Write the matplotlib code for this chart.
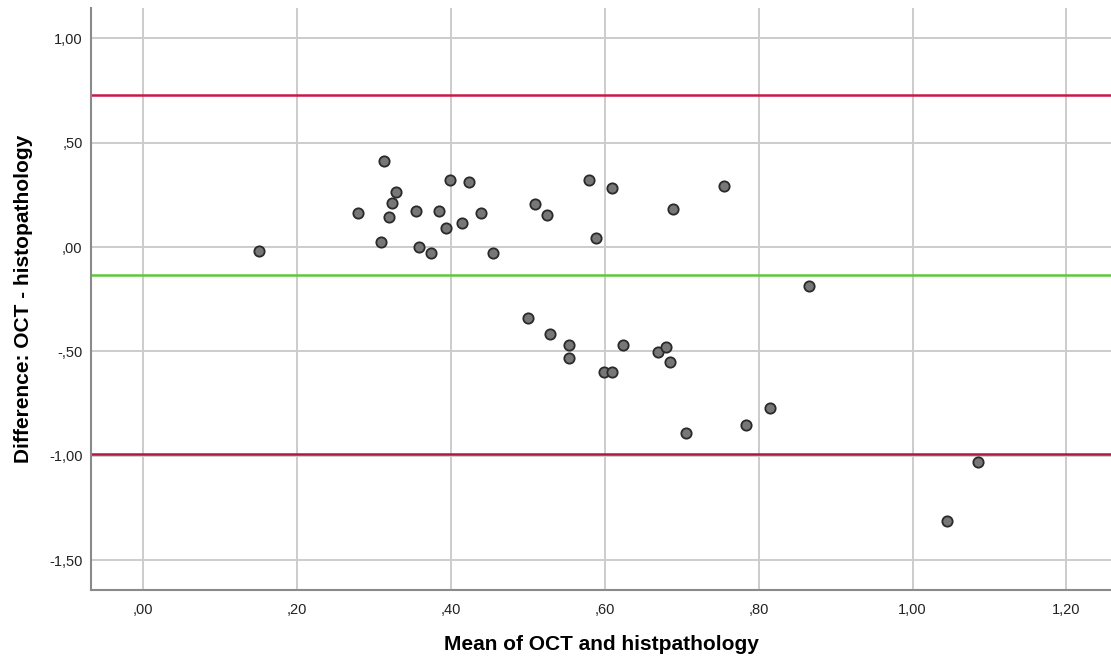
import matplotlib
matplotlib.use("Agg")
import matplotlib.pyplot as plt
from matplotlib.ticker import FuncFormatter

# Data (mean, difference)
mean_vals = [0.150, 0.313, 0.399, 0.424, 0.329, 0.324, 0.279, 0.355, 0.384, 0.439,
             0.319, 0.414, 0.394, 0.309, 0.359, 0.374, 0.455, 0.579, 0.610, 0.509,
             0.525, 0.589, 0.689, 0.755, 0.500, 0.529, 0.554, 0.554, 0.599, 0.610,
             0.624, 0.669, 0.680, 0.685, 0.705, 0.784, 0.815, 0.865, 1.085, 1.045]
diff_vals = [-0.019, 0.412, 0.322, 0.313, 0.262, 0.212, 0.163, 0.172, 0.172, 0.163,
             0.142, 0.114, 0.092, 0.022, 0.001, -0.029, -0.029, 0.322, 0.283, 0.205,
             0.153, 0.042, 0.182, 0.294, -0.339, -0.418, -0.470, -0.532, -0.600, -0.600,
             -0.470, -0.502, -0.481, -0.551, -0.893, -0.852, -0.770, -0.188, -1.032, -1.313]
mean_diff = -0.132
upper_loa = 0.728
lower_loa = -0.992

x_ticks = [0.0, 0.2, 0.4, 0.6, 0.8, 1.0, 1.2]
y_ticks = [-1.5, -1.0, -0.5, 0.0, 0.5, 1.0]

plt.rcParams['font.family'] = ['Liberation Sans', 'DejaVu Sans']

fig = plt.figure(figsize=(11.11, 6.59), dpi=100)
ax = fig.add_axes([91/1111, 69/659, 1 - 91/1111, (590-8)/659])

ax.set_xlim(-0.0678, 1.258)
ax.set_ylim(-1.643, 1.145)

ax.set_xticks(x_ticks)
ax.set_yticks(y_ticks)

def fmt(v, pos):
    s = f"{abs(v):.2f}".replace(".", ",")
    if s.startswith("0"):
        s = s[1:]
    return ("-" if v < 0 else "") + s

ax.xaxis.set_major_formatter(FuncFormatter(fmt))
ax.yaxis.set_major_formatter(FuncFormatter(fmt))

ax.grid(True, color='#cccccc', linewidth=1.4, zorder=0)
ax.set_axisbelow(True)
ax.tick_params(length=0, labelsize=10.5, colors='#222222')
ax.tick_params(axis='x', pad=9)
ax.tick_params(axis='y', pad=6)

for s in ['top', 'right']:
    ax.spines[s].set_visible(False)
for s in ['left', 'bottom']:
    ax.spines[s].set_color('#8a8a8a')
    ax.spines[s].set_linewidth(1.5)

ax.axhline(upper_loa, color='#c8184a', linewidth=1.8, zorder=2)
ax.axhline(lower_loa, color='#b01840', linewidth=1.8, zorder=2)
ax.axhline(mean_diff, color='#5cc93a', linewidth=1.8, zorder=2)

ax.scatter(mean_vals, diff_vals, s=55, facecolor='#777777', edgecolor='#2a2a2a',
           linewidth=1.3, zorder=3)

ax.set_xlabel("Mean of OCT and histpathology", fontsize=15, fontweight='bold', labelpad=13)
ax.set_ylabel("Difference: OCT - histopathology", fontsize=15, fontweight='bold', labelpad=11.5)

fig.savefig("out.png", dpi=100)
